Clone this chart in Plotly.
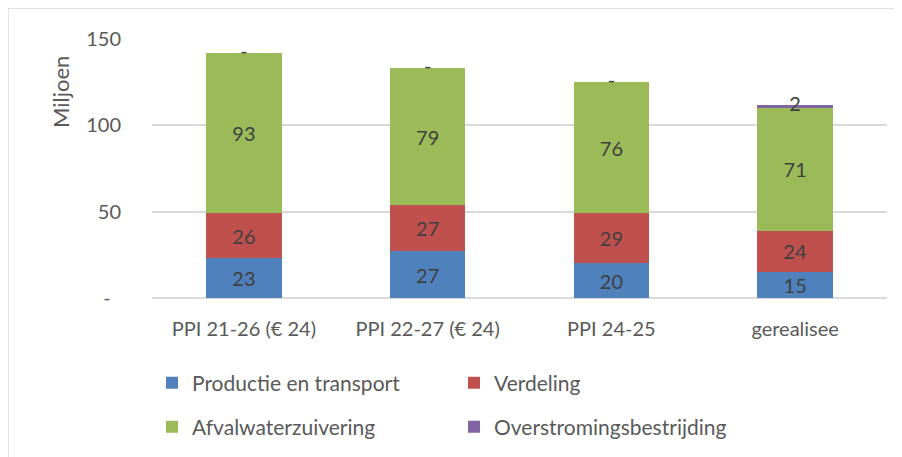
import plotly.graph_objects as go

categories = ["PPI 21-26 (€ 24)", "PPI 22-27 (€ 24)", "PPI 24-25", "gerealisee"]
productie = [23, 27, 20, 15]
verdeling = [26, 27, 29, 24]
afvalwater = [93, 79, 76, 71]
overstroming = [0, 0, 0, 2]

series = [
    ("Productie en transport", productie, "#4F81BD", "legend"),
    ("Verdeling", verdeling, "#C0504D", "legend"),
    ("Afvalwaterzuivering", afvalwater, "#9BBB59", "legend2"),
    ("Overstromingsbestrijding", overstroming, "#8064A2", "legend2"),
]

FONT = "Lato"
OFF = 8  # page body margin
W, H = 902 - OFF, 457 - OFF
# desired positions in page pixels
PL, PR, PT, PB = 152, 887, 39, 298
ML, MR, MT, MB = PL - OFF, W - (PR - OFF), PT - OFF, H - (PB - OFF)
PW = W - ML - MR
PH = H - MT - MB

def px_x(p):
    return (p - OFF - ML) / PW

def px_y(p):
    return (H - MB - (p - OFF)) / PH

fig = go.Figure()
for name, vals, color, leg in series:
    is_small = name == "Overstromingsbestrijding"
    fig.add_trace(go.Bar(
        x=categories, y=vals, name=name, marker_color=color,
        marker_line_width=0,
        text=[str(v) for v in vals],
        textposition="none" if is_small else "inside",
        insidetextanchor="middle",
        constraintext="none",
        textangle=0,
        textfont=dict(family=FONT, size=20, color="#404040"),
        legend=leg,
    ))

# labels for the thin top segment (centre of segment, "-" for zero)
base = [a + b + c for a, b, c in zip(productie, verdeling, afvalwater)]
fig.add_trace(go.Scatter(
    x=categories,
    y=[b + v / 2 for b, v in zip(base, overstroming)],
    mode="text",
    text=["-" if v == 0 else str(v) for v in overstroming],
    textfont=dict(family=FONT, size=20, color="#404040"),
    showlegend=False, hoverinfo="skip", cliponaxis=False,
))

legend_common = dict(
    orientation="h", xanchor="left", yanchor="middle", traceorder="normal",
    font=dict(family=FONT, size=21, color="#595959"),
    entrywidth=257, entrywidthmode="pixels", bgcolor="rgba(0,0,0,0)",
)

fig.update_layout(
    width=W, height=H,
    margin=dict(l=ML, r=MR, t=MT, b=MB, autoexpand=False),
    barmode="stack",
    bargap=0.59,
    plot_bgcolor="white",
    paper_bgcolor="white",
    font=dict(family=FONT, size=20, color="#595959"),
    legend=dict(x=px_x(152), y=px_y(383), **legend_common),
    legend2=dict(x=px_x(152), y=px_y(427), **legend_common),
    xaxis=dict(
        showgrid=False, showline=False, ticks="", automargin=False,
        ticklabelstandoff=17,
        tickfont=dict(family=FONT, size=20, color="#595959"),
    ),
    yaxis=dict(
        range=[0, 150], automargin=False,
        tickvals=[0, 50, 100, 150],
        ticktext=["-\u00a0\u00a0", "50", "100", "150"],
        showgrid=True, gridcolor="#D9D9D9", gridwidth=1.5,
        zeroline=True, zerolinecolor="#D9D9D9", zerolinewidth=1.5,
        showline=False, ticks="",
        ticklabelstandoff=30,
        tickfont=dict(family=FONT, size=20, color="#595959"),
    ),
    annotations=[dict(
        text="Miljoen", textangle=-90,
        xref="paper", yref="paper", x=px_x(60), y=px_y(92),
        xanchor="center", yanchor="middle", showarrow=False,
        font=dict(family=FONT, size=22, color="#595959"),
    )],
    shapes=[
        dict(type="line", xref="paper", yref="paper",
             x0=px_x(8), y0=px_y(8), x1=px_x(910), y1=px_y(8),
             line=dict(color="#D9D9D9", width=1.5)),
        dict(type="line", xref="paper", yref="paper",
             x0=px_x(8), y0=px_y(8), x1=px_x(8), y1=px_y(465),
             line=dict(color="#D9D9D9", width=1.5)),
    ],
)

fig.write_html("out.html")
